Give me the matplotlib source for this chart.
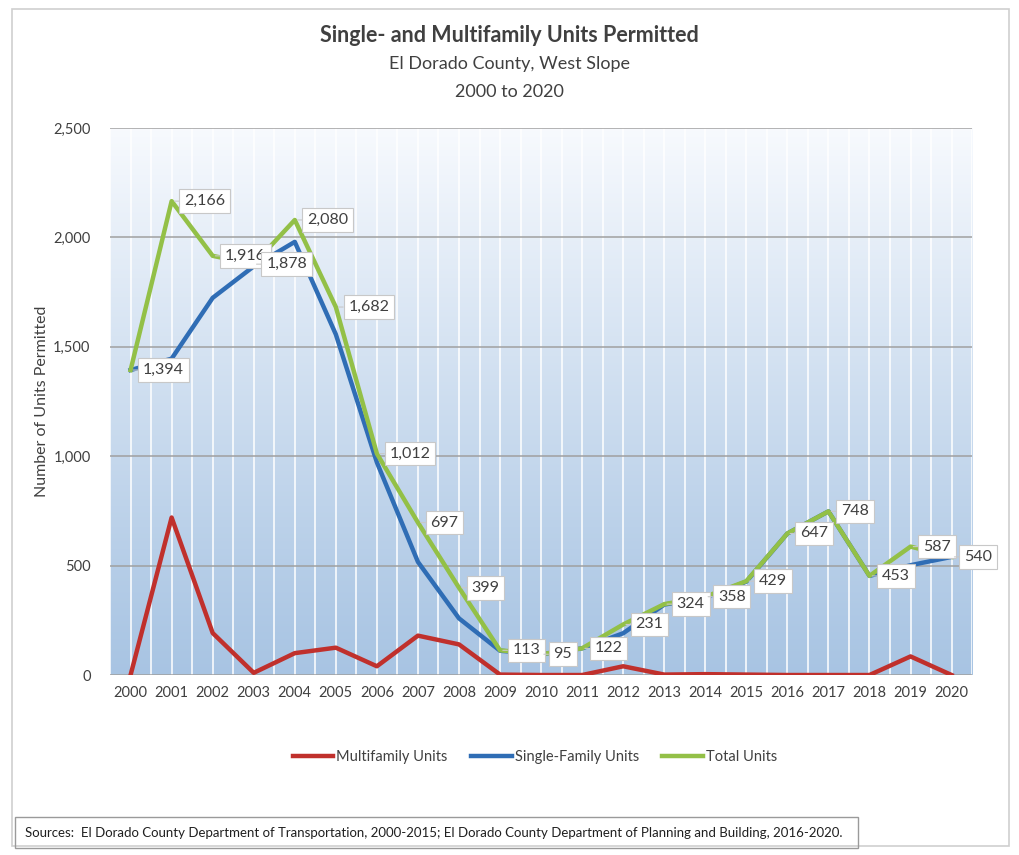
import numpy as np
import matplotlib.pyplot as plt
from matplotlib.patches import Rectangle

plt.rcParams['font.family'] = ['Lato', 'DejaVu Sans']

years = [str(y) for y in range(2000, 2021)]
multi = [0, 720, 192, 10, 100, 125, 40, 180, 140, 2, 0, 0, 40, 2, 4, 2, 0, 0, 0, 85, 0]
single = [1394, 1446, 1724, 1868, 1980, 1557, 972, 517, 259, 111, 95, 122, 191, 322, 354, 427, 647, 748, 453, 502, 540]
total = [1394, 2166, 1916, 1878, 2080, 1682, 1012, 697, 399, 113, 95, 122, 231, 324, 358, 429, 647, 748, 453, 587, 540]
yticks = [0, 500, 1000, 1500, 2000, 2500]

red = '#c0302c'
blue = '#2f6db5'
green = '#93c047'
txt = '#404040'

fig = plt.figure(figsize=(10.19, 8.55), dpi=100)
fig.patch.set_facecolor('white')
# outer chart frame
fig.add_artist(Rectangle((0.012, 0.01), 0.978, 0.98, transform=fig.transFigure,
                         fill=False, edgecolor='#cfcfcf', lw=1.2))

ax = fig.add_axes([0.108, 0.2105, 0.846, 0.6397])
x = np.arange(len(years))

# gradient background: blue at bottom, almost white at top
grad = np.linspace(0, 1, 256).reshape(-1, 1)
top = np.array([0.97, 0.98, 0.995])
bot = np.array([0.66, 0.77, 0.89])
img = bot + (top - bot) * grad[..., None] ** 1.1
ax.imshow(img, extent=(-0.5, len(years) - 0.5, 0, 2500), origin='lower',
          aspect='auto', zorder=0)
ax.set_xlim(-0.5, len(years) - 0.5)
ax.set_ylim(0, 2500)

for v in np.arange(-0.5, len(years), 0.5):
    ax.axvline(v, color='white', lw=1.3, alpha=0.85, zorder=1)
for t in yticks:
    ax.axhline(t, color='#a0a0a0', lw=1.1, zorder=1.5)

ax.plot(x, multi, color=red, lw=3.2, zorder=3, label='Multifamily Units')
ax.plot(x, single, color=blue, lw=3.2, zorder=3, label='Single-Family Units')
ax.plot(x, total, color=green, lw=3.2, zorder=4, label='Total Units')

for i, v in enumerate(total):
    ax.annotate(f'{v:,}', (x[i], v), xytext=(9, 0), textcoords='offset points',
                ha='left', va='center', fontsize=11.5, color=txt, zorder=6,
                bbox=dict(boxstyle='square,pad=0.3', fc='white', ec='#c8c8c8', lw=0.8),
                arrowprops=dict(arrowstyle='-', color='#c8c8c8', lw=0.8,
                                shrinkA=0, shrinkB=2))

ax.set_xticks(x)
ax.set_xticklabels(years)
ax.set_yticks(yticks)
ax.set_yticklabels([f'{t:,}' for t in yticks])
ax.tick_params(axis='both', length=0, labelsize=10.5, colors=txt, pad=8)
ax.tick_params(axis='y', pad=14)
for s in ax.spines.values():
    s.set_visible(False)
ax.set_ylabel('Number of Units Permitted', fontsize=11.5, color=txt, labelpad=3)

fig.text(0.5, 0.958, 'Single- and Multifamily Units Permitted', ha='center', va='center',
         fontsize=15.5, fontweight='bold', color=txt)
fig.text(0.5, 0.925, 'El Dorado County, West Slope', ha='center', va='center',
         fontsize=13, color=txt)
fig.text(0.5, 0.892, '2000 to 2020', ha='center', va='center', fontsize=13, color=txt)

fig.legend(loc='center', bbox_to_anchor=(0.525, 0.115), ncol=3, frameon=False,
           fontsize=10.5, handlelength=2.8, columnspacing=1.6, handletextpad=0.2,
           labelcolor=txt)

fig.add_artist(Rectangle((0.015, 0.008), 0.827, 0.036, transform=fig.transFigure,
                         fill=False, edgecolor='#9a9a9a', lw=1))
fig.text(0.025, 0.026, 'Sources:  El Dorado County Department of Transportation, 2000-2015; '
         'El Dorado County Department of Planning and Building, 2016-2020.',
         ha='left', va='center', fontsize=9.5, color='#202020')

fig.savefig('out.png', dpi=100)
